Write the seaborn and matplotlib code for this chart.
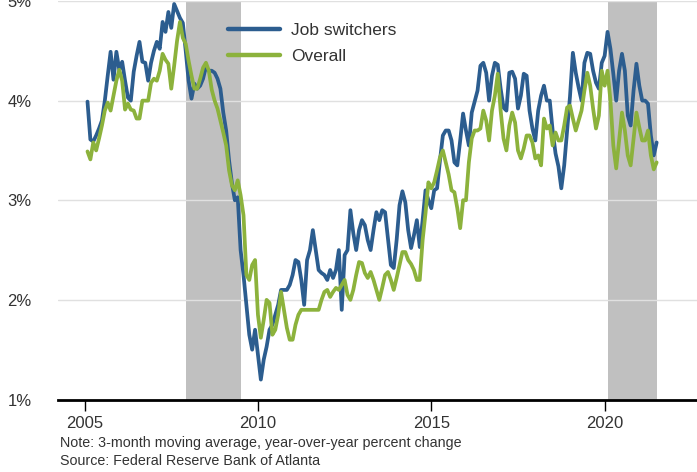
import numpy as np
import pandas as pd
import matplotlib
matplotlib.use("Agg")
import matplotlib.pyplot as plt
import seaborn as sns

# ---------------- data (monthly, Feb 2005 - Jul 2021) ----------------
start_month = "2005-02-01"
job_switchers = [
    3.99, 3.61, 3.59, 3.65, 3.72, 3.80, 4.00, 4.25, 4.49, 4.21,
    4.49, 4.31, 4.39, 4.20, 4.03, 4.00, 4.29, 4.45, 4.59, 4.39,
    4.38, 4.20, 4.38, 4.50, 4.59, 4.52, 4.79, 4.69, 4.89, 4.73,
    4.97, 4.90, 4.83, 4.78, 4.50, 4.20, 4.02, 4.17, 4.12, 4.15,
    4.22, 4.34, 4.30, 4.30, 4.28, 4.22, 4.12, 3.88, 3.70, 3.40,
    3.17, 3.00, 3.03, 2.50, 2.25, 1.95, 1.65, 1.50, 1.70, 1.45,
    1.20, 1.40, 1.53, 1.70, 1.75, 1.85, 1.95, 2.10, 2.10, 2.10,
    2.15, 2.25, 2.40, 2.38, 2.20, 1.95, 2.40, 2.50, 2.70, 2.50,
    2.30, 2.27, 2.25, 2.20, 2.30, 2.22, 2.30, 2.50, 1.90, 2.45,
    2.50, 2.90, 2.67, 2.50, 2.70, 2.80, 2.75, 2.60, 2.50, 2.70,
    2.88, 2.80, 2.90, 2.88, 2.62, 2.35, 2.32, 2.60, 2.95, 3.09,
    2.98, 2.70, 2.52, 2.65, 2.80, 2.53, 2.80, 3.10, 3.00, 2.92,
    3.10, 3.12, 3.40, 3.65, 3.70, 3.70, 3.60, 3.38, 3.35, 3.60,
    3.87, 3.70, 3.55, 3.88, 3.99, 4.10, 4.35, 4.38, 4.28, 4.00,
    4.25, 4.38, 4.36, 4.12, 3.93, 3.90, 4.28, 4.29, 4.22, 3.92,
    4.05, 4.27, 4.25, 3.90, 3.72, 3.60, 3.90, 4.05, 4.15, 4.00,
    4.00, 3.70, 3.47, 3.34, 3.12, 3.35, 3.70, 4.04, 4.48, 4.28,
    4.13, 4.00, 4.38, 4.48, 4.47, 4.30, 4.18, 4.12, 4.38, 4.45,
    4.69, 4.52, 4.27, 4.00, 4.30, 4.47, 4.30, 3.85, 3.75, 4.10,
    4.37, 4.15, 4.00, 4.00, 3.97, 3.65, 3.45, 3.58,
]
overall = [
    3.49, 3.41, 3.58, 3.50, 3.62, 3.75, 3.90, 3.98, 3.90, 4.05,
    4.20, 4.31, 4.20, 3.91, 3.97, 3.91, 3.90, 3.82, 3.82, 4.00,
    4.00, 4.00, 4.18, 4.22, 4.20, 4.30, 4.47, 4.41, 4.37, 4.12,
    4.35, 4.60, 4.79, 4.63, 4.57, 4.40, 4.25, 4.12, 4.12, 4.22,
    4.33, 4.38, 4.30, 4.11, 4.00, 3.92, 3.80, 3.68, 3.55, 3.30,
    3.15, 3.10, 3.20, 3.05, 2.85, 2.25, 2.20, 2.35, 2.40, 1.85,
    1.62, 1.80, 2.00, 1.97, 1.65, 1.70, 1.85, 2.08, 1.90, 1.72,
    1.60, 1.60, 1.75, 1.85, 1.90, 1.90, 1.90, 1.90, 1.90, 1.90,
    1.90, 2.00, 2.08, 2.10, 2.03, 2.08, 2.12, 2.10, 2.15, 2.20,
    2.05, 2.00, 2.10, 2.25, 2.38, 2.37, 2.27, 2.22, 2.28, 2.20,
    2.10, 2.00, 2.12, 2.25, 2.28, 2.20, 2.10, 2.22, 2.35, 2.48,
    2.48, 2.40, 2.36, 2.30, 2.20, 2.20, 2.60, 2.87, 3.18, 3.12,
    3.18, 3.30, 3.43, 3.50, 3.38, 3.26, 3.10, 3.08, 2.92, 2.72,
    3.00, 3.00, 3.38, 3.62, 3.70, 3.70, 3.72, 3.90, 3.80, 3.60,
    3.90, 4.05, 4.27, 3.90, 3.62, 3.50, 3.75, 3.88, 3.78, 3.50,
    3.42, 3.52, 3.65, 3.65, 3.58, 3.42, 3.45, 3.35, 3.82, 3.72,
    3.75, 3.55, 3.68, 3.60, 3.60, 3.75, 3.93, 3.95, 3.82, 3.70,
    3.80, 3.90, 4.10, 4.28, 4.15, 3.92, 3.72, 3.85, 4.30, 4.15,
    4.30, 4.00, 3.55, 3.32, 3.60, 3.88, 3.70, 3.45, 3.35, 3.62,
    3.88, 3.73, 3.60, 3.60, 3.70, 3.45, 3.31, 3.38,
]
series_names = ["Job switchers", "Overall"]
series_colors = ["#2c5d8f", "#8cb23c"]
recessions = [(2007 + 11 / 12, 2009.5), (2020 + 1 / 12, 2021.5)]
x_ticks = [2005, 2010, 2015, 2020]
y_ticks = [1, 2, 3, 4, 5]
note_text = "Note: 3-month moving average, year-over-year percent change"
source_text = "Source: Federal Reserve Bank of Atlanta"

# ---------------- build table ----------------
dates = pd.date_range(start_month, periods=len(job_switchers), freq="MS")
dec_year = dates.year + (dates.month - 1) / 12.0
df = pd.concat([
    pd.DataFrame({"year": dec_year, "value": job_switchers, "series": series_names[0]}),
    pd.DataFrame({"year": dec_year, "value": overall, "series": series_names[1]}),
], ignore_index=True)

# ---------------- plot ----------------
sns.set_theme(style="white")
plt.rcParams["font.family"] = ["Liberation Sans", "DejaVu Sans"]

fig = plt.figure(figsize=(6.97, 4.72), dpi=100)
ax = fig.add_axes([58 / 697, 72.5 / 472, 1 - 58 / 697, (471 - 72.5) / 472])

for a, b in recessions:
    ax.axvspan(a, b, color="#c0c0c0", lw=0, zorder=0)

sns.lineplot(data=df, x="year", y="value", hue="series", hue_order=series_names,
             palette=series_colors, linewidth=2.7, ax=ax, legend=True, zorder=3)

ax.set_xlim(2005 + (58 - 84.6) / 34.67, 2005 + (697 - 84.6) / 34.67)
ax.set_ylim(1, 5)
ax.set_xticks(x_ticks)
ax.set_xticklabels([str(t) for t in x_ticks])
ax.set_yticks(y_ticks)
ax.set_yticklabels([f"{t}%" for t in y_ticks])
ax.set_xlabel("")
ax.set_ylabel("")

ax.grid(axis="y", color="#e0e0e0", linewidth=1.0, zorder=1)
ax.grid(axis="x", visible=False)
for s in ["top", "right", "left"]:
    ax.spines[s].set_visible(False)
ax.spines["bottom"].set_color("black")
ax.spines["bottom"].set_linewidth(2.0)
ax.spines["bottom"].set_zorder(4)

ax.tick_params(axis="x", which="major", bottom=True, length=8, width=1.0,
               color="black", labelsize=12, labelcolor="#333333", pad=4)
ax.tick_params(axis="y", which="major", left=False, labelsize=12,
               labelcolor="#333333", pad=13)

leg = ax.legend(frameon=False, fontsize=12.5, handlelength=3.0, handletextpad=0.65,
                labelspacing=0.6, borderpad=0, borderaxespad=0,
                loc="upper left", bbox_to_anchor=(228 / 697, 1 - 23 / 472),
                bbox_transform=fig.transFigure)
for line in leg.get_lines():
    line.set_linewidth(3.2)
for t in leg.get_texts():
    t.set_color("#333333")

fig.text(60 / 697, 1 - 443 / 472, note_text, fontsize=10.3, color="#333333", va="center")
fig.text(60 / 697, 1 - 461 / 472, source_text, fontsize=10.3, color="#333333", va="center")

fig.savefig("out.png", dpi=100)
